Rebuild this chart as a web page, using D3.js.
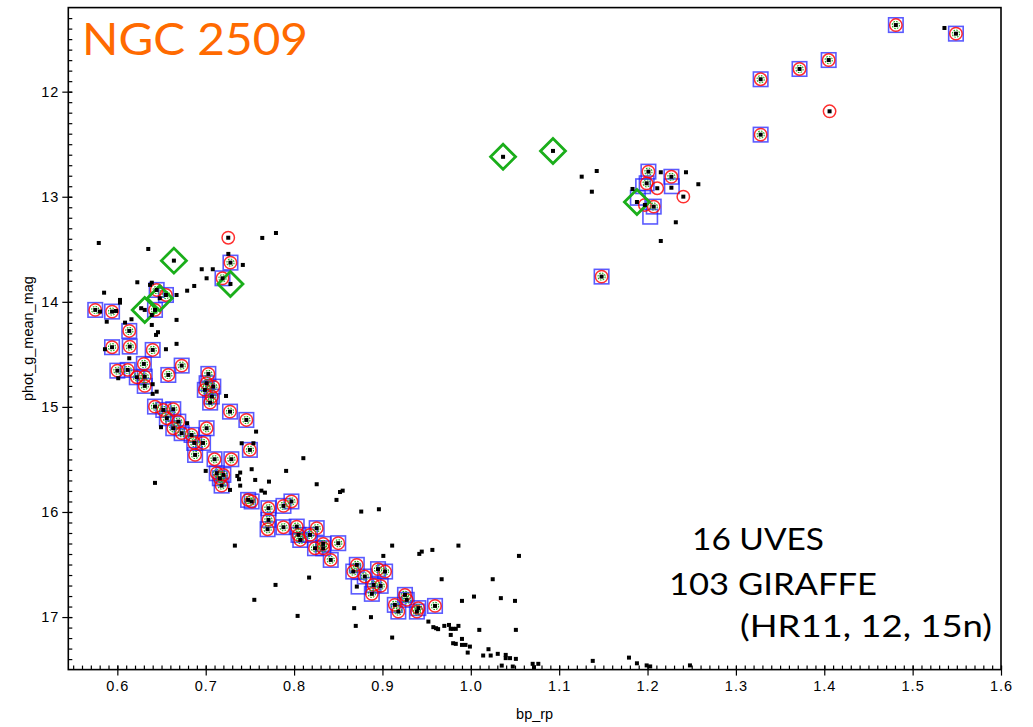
<!DOCTYPE html>
<html><head><meta charset="utf-8">
<script src="https://cdn.jsdelivr.net/npm/d3@7"></script>
<style>body{margin:0;background:#fff}</style>
</head><body><svg id="c" width="1033" height="727"></svg>
<script>
// ---------- data ----------
const xTickLabels = ["0.6","0.7","0.8","0.9","1.0","1.1","1.2","1.3","1.4","1.5","1.6"];
const yTickLabels = ["12","13","14","15","16","17"];

// GIRAFFE/UVES targets: blue square + red circle + green circle + black dot  [bp_rp, G]
const targetStars = [
 [1.481,11.366],[1.549,11.448],[1.405,11.699],[1.372,11.784],[1.328,11.882],[1.328,12.409],
 [1.201,12.761],[1.227,12.81],[1.199,12.872],[1.207,13.094],[1.148,13.76],
 [0.728,13.627],[0.719,13.776],[0.575,14.077],[0.594,14.093],[0.6445,13.887],[0.655,13.935],[0.6426,14.077],
 [0.6135,14.277],[0.594,14.432],[0.614,14.426],[0.640,14.458],[0.630,14.591],[0.600,14.655],[0.6117,14.648],
 [0.622,14.718],[0.631,14.712],[0.631,14.80],[0.6577,14.696],[0.6728,14.607],[0.703,14.686],[0.701,14.775],
 [0.699,14.838],[0.7086,14.807],[0.707,14.902],[0.705,14.959],[0.7275,15.045],[0.746,15.124],[0.6426,14.997],
 [0.652,15.029],[0.6633,15.022],[0.656,15.108],[0.669,15.14],[0.6633,15.203],[0.6728,15.25],[0.684,15.267],
 [0.701,15.203],[0.687,15.343],[0.697,15.343],[0.750,15.409],[0.688,15.457],[0.71,15.498],[0.729,15.498],
 [0.7125,15.631],[0.72,15.647],[0.716,15.679],[0.718,15.749],[0.748,15.885],[0.752,15.90],[0.771,15.964],
 [0.788,15.942],[0.797,15.90],[0.771,16.075],[0.770,16.164],[0.788,16.145],[0.803,16.139],[0.805,16.218],
 [0.807,16.266],[0.818,16.218],[0.8256,16.154],[0.833,16.304],[0.833,16.345],[0.850,16.297],[0.8415,16.456],
 [0.8237,16.345],[0.867,16.567],[0.871,16.503],[0.880,16.614],[0.895,16.544],[0.903,16.567],[0.890,16.694],
 [0.898,16.703],[0.888,16.779],[0.9255,16.789],[0.9275,16.836],[0.914,16.884],[0.918,16.948],[0.9406,16.915],
 [0.939,16.948],[0.9595,16.894]
];
// extra blue squares (no circles)
const squareOnlyStars = [[1.2275,12.90],[1.195,12.90],[1.189,13.01],[1.203,13.19],[0.873,16.71]];
// extra red circles
const circleOnlyStars = [[1.406,12.187],[0.7255,13.39],[1.211,12.919],[1.2405,12.999],[1.197,13.078]];
// green diamonds
const diamondStars = [[1.0365,12.62],[1.093,12.564],[1.188,13.05],[0.664,13.608],[0.728,13.83],[0.631,14.077],[0.648,13.966]];
// other cluster members (black dots only)
const fieldStars = [
 [1.536,11.394],
 [1.1255,12.809],[1.1425,12.755],[1.137,12.952],[1.183,12.926],[1.215,12.767],[1.2435,12.767],[1.2575,12.881],
 [1.227,12.914],[1.232,13.243],[1.215,13.421],
 [0.579,13.44],[0.635,13.497],[0.764,13.392],[0.7795,13.345],[0.7256,13.544],[0.742,13.649],[0.6955,13.69],
 [0.708,13.69],[0.701,13.776],[0.6226,13.814],[0.639,13.818],[0.637,13.839],[0.687,13.849],[0.679,13.894],
 [0.585,13.913],[0.667,13.935],[0.603,13.982],[0.603,14.008],[0.627,14.061],[0.5985,14.087],[0.5804,14.093],
 [0.639,14.125],[0.639,14.22],[0.667,14.172],[0.588,14.189],[0.616,14.166],[0.6087,14.198],[0.646,14.289],
 [0.6438,14.315],[0.667,14.40],[0.586,14.451],[0.655,14.451],[0.6135,14.537],[0.601,14.727],[0.640,14.784],
 [0.6445,14.855],[0.640,14.876],[0.723,14.896],[0.757,15.235],[0.7407,15.346],[0.754,15.346],[0.6494,15.193],
 [0.679,15.155],[0.8105,15.488],[0.700,15.609],[0.739,15.625],[0.752,15.593],[0.791,15.609],[0.7358,15.657],
 [0.7377,15.688],[0.756,15.695],[0.7716,15.711],[0.739,15.749],[0.7275,15.79],[0.8256,15.736],[0.763,15.797],
 [0.767,15.816],[0.855,15.797],[0.852,15.81],[0.848,15.885],[0.876,15.996],[0.896,15.974],[0.733,16.32],
 [0.817,16.624],[0.779,16.694],[0.755,16.836],[0.804,16.989],[0.868,16.915],[0.887,17.001],[0.6426,15.723],
 [0.911,16.32],[0.986,16.32],[0.901,16.418],[0.9417,16.399],[0.9445,16.377],[0.9565,16.361],[1.0545,16.418],
 [0.967,16.64],[1.0248,16.64],[0.990,16.846],[1.0036,16.805],[1.034,16.82],[1.05,16.846],[0.871,16.71],
 [0.8698,17.084],[0.952,17.043],[0.9576,17.096],[0.9607,17.106],[0.963,17.115],[0.970,17.084],[0.9753,17.075],
 [0.9773,17.112],[0.980,17.112],[0.983,17.112],[0.986,17.084],[0.9773,17.17],[0.990,17.208],[1.0096,17.122],
 [1.051,17.122],[0.911,17.195],[0.980,17.249],[0.983,17.255],[0.990,17.265],[0.994,17.265],[0.999,17.281],
 [0.9965,17.338],[1.014,17.366],[1.020,17.306],[1.0225,17.366],[1.0305,17.35],[1.0395,17.36],[1.0395,17.391],
 [1.0444,17.391],[1.051,17.398],[1.0475,17.471],[1.035,17.462],[1.070,17.445],[1.0764,17.445],[1.0715,17.477],
 [1.138,17.417],[1.179,17.386],[1.188,17.44],[1.199,17.46],[1.203,17.47],[1.248,17.46]
];
const titleText = "NGC 2509";
const noteLines = ["16 UVES","103 GIRAFFE","(HR11, 12, 15n)"];

// ---------- chart ----------
const svg = d3.select("#c");
const L=68.3, R=1001, T=7.6, B=669.6;
const x = d3.scaleLinear().domain([0.5445,1.6]).range([L,R]);
const y = d3.scaleLinear().domain([11.2,17.5]).range([T,B]);

svg.append("defs").append("clipPath").attr("id","clip")
  .append("rect").attr("x",L).attr("y",T).attr("width",R-L).attr("height",B-T);
const plot = svg.append("g").attr("clip-path","url(#clip)");

const xMajor = xTickLabels.map(Number);
const yMajor = yTickLabels.map(Number);
const xMinor = d3.range(55,161).map(d=>d/100);
const yMinor = d3.range(113,175).map(d=>d/10);

// axes
const axFont = "'Liberation Sans', Arial, sans-serif";
const gx = svg.append("g").attr("transform",`translate(0,${B})`)
  .call(d3.axisBottom(x).tickValues(xMinor).tickSize(-4).tickFormat(""));
const gx2 = svg.append("g").attr("transform",`translate(0,${B})`)
  .call(d3.axisBottom(x).tickValues(xMajor).tickSizeInner(6).tickSizeOuter(0).tickPadding(5)
    .tickFormat((d,i)=>xTickLabels[i]));
const gy = svg.append("g").attr("transform",`translate(${L},0)`)
  .call(d3.axisLeft(y).tickValues(yMinor).tickSize(-4).tickFormat(""));
const gy2 = svg.append("g").attr("transform",`translate(${L},0)`)
  .call(d3.axisLeft(y).tickValues(yMajor).tickSizeInner(6).tickSizeOuter(0).tickPadding(3)
    .tickFormat((d,i)=>yTickLabels[i]));
[gx,gx2,gy,gy2].forEach(g=>{
  g.select(".domain").remove();
  g.selectAll("line").attr("stroke","#000").attr("stroke-width",1.2);
  g.selectAll("text").attr("fill","#000").style("font-family",axFont).style("font-size","14.5px")
    .style("letter-spacing","1px");
});
gx2.selectAll("line").attr("y1",-4);
gy2.selectAll("line").attr("x1",4);

svg.append("rect").attr("x",L).attr("y",T).attr("width",R-L).attr("height",B-T)
  .attr("fill","none").attr("stroke","#000").attr("stroke-width",1.6);

svg.append("text").attr("x",(L+R)/2).attr("y",719).attr("text-anchor","middle")
  .style("font-family",axFont).style("font-size","14.5px").text("bp_rp");
svg.append("text").attr("transform",`translate(33,${(T+B)/2}) rotate(-90)`).attr("text-anchor","middle")
  .style("font-family",axFont).style("font-size","14.5px").text("phot_g_mean_mag");

// markers
const sq = 14.5;
const allSquares = targetStars.concat(squareOnlyStars);
plot.append("g").selectAll("rect").data(allSquares).join("rect")
  .attr("x",d=>x(d[0])-sq/2).attr("y",d=>y(d[1])-sq/2).attr("width",sq).attr("height",sq)
  .attr("fill","none").attr("stroke","#1a1aff").attr("stroke-width",1.6).attr("stroke-opacity",0.72);
const allCircles = targetStars.concat(circleOnlyStars);
plot.append("g").selectAll("circle").data(allCircles).join("circle")
  .attr("cx",d=>x(d[0])).attr("cy",d=>y(d[1])).attr("r",6.2)
  .attr("fill","none").attr("stroke","#ff0000").attr("stroke-width",1.5).attr("stroke-opacity",0.82);
plot.append("g").selectAll("circle").data(targetStars).join("circle")
  .attr("cx",d=>x(d[0])).attr("cy",d=>y(d[1])).attr("r",3.6)
  .attr("fill","none").attr("stroke","#20b020").attr("stroke-width",1.1).attr("stroke-dasharray","1.6,1.2");
const dm = 12.5;
plot.append("g").selectAll("path").data(diamondStars).join("path")
  .attr("d",d=>{const cx=x(d[0]),cy=y(d[1]);return `M${cx},${cy-dm}L${cx+dm},${cy}L${cx},${cy+dm}L${cx-dm},${cy}Z`;})
  .attr("fill","none").attr("stroke","#1aae1a").attr("stroke-width",2.8);
const dots = fieldStars.concat(targetStars, circleOnlyStars, diamondStars);
plot.append("g").selectAll("rect").data(dots).join("rect")
  .attr("x",d=>x(d[0])-2).attr("y",d=>y(d[1])-2).attr("width",4).attr("height",4).attr("fill","#000");

// texts
const geo = "Lato, 'Noto Sans', sans-serif";
svg.append("text").attr("x",82).attr("y",55).attr("textLength",226).attr("lengthAdjust","spacingAndGlyphs")
  .style("font-family",geo).style("font-size","44px").attr("fill","#ff6a00").text(titleText);
const notePos = [[692,550,132],[669,595,208],[740,637,252]];
noteLines.forEach((t,i)=>{
  svg.append("text").attr("x",notePos[i][0]).attr("y",notePos[i][1]).attr("textLength",notePos[i][2])
    .attr("lengthAdjust","spacingAndGlyphs").style("font-family",geo).style("font-size","30px").attr("fill","#000").text(t);
});
</script></body></html>
